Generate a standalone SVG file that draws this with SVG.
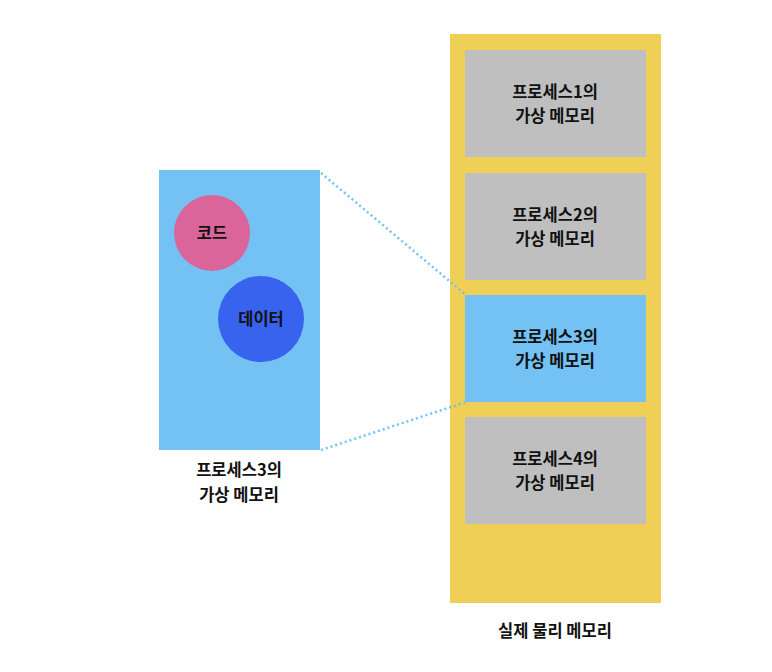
<svg xmlns="http://www.w3.org/2000/svg" width="772" height="672" viewBox="0 0 772 672">
<style>
text{font-family:"Noto Sans CJK KR","Noto Sans",sans-serif;font-size:16.5px;font-weight:600;fill:#111;text-anchor:middle;dominant-baseline:central}
.gray{fill:#BFBFBF}
.lblue{fill:#74C1F3}
.dot{stroke:#74C1F3;stroke-width:2.5;stroke-dasharray:2 3;fill:none}
</style>
<rect width="772" height="672" fill="#fff"/>
<g id="physical-memory">
<rect x="450" y="34" width="211" height="569" fill="#EFCF55"/>
<text x="555" y="630">실제 물리 메모리</text>
</g>
<g id="proc1">
<rect class="gray" x="465" y="50" width="181" height="107"/>
<text x="555" y="91">프로세스1의</text>
<text x="555" y="115">가상 메모리</text>
</g>
<g id="proc2">
<rect class="gray" x="465" y="173" width="181" height="107"/>
<text x="555" y="214">프로세스2의</text>
<text x="555" y="238">가상 메모리</text>
</g>
<g id="proc3">
<rect class="lblue" x="465" y="295" width="181" height="107"/>
<text x="555" y="336">프로세스3의</text>
<text x="555" y="360">가상 메모리</text>
</g>
<g id="proc4">
<rect class="gray" x="465" y="417" width="181" height="107"/>
<text x="555" y="458">프로세스4의</text>
<text x="555" y="482">가상 메모리</text>
</g>
<g id="proc3-virtual">
<rect class="lblue" x="159" y="170" width="161" height="280"/>
<text x="239" y="469">프로세스3의</text>
<text x="239" y="494">가상 메모리</text>
</g>
<g id="code">
<circle cx="212" cy="233" r="38" fill="#DB649B"/>
<text x="212" y="232">코드</text>
</g>
<g id="data">
<circle cx="261" cy="319" r="43" fill="#3763EE"/>
<text x="261" y="318">데이터</text>
</g>
<g id="connectors">
<line class="dot" x1="321" y1="173" x2="466" y2="295"/>
<line class="dot" x1="321" y1="450" x2="466" y2="402"/>
</g>
</svg>
